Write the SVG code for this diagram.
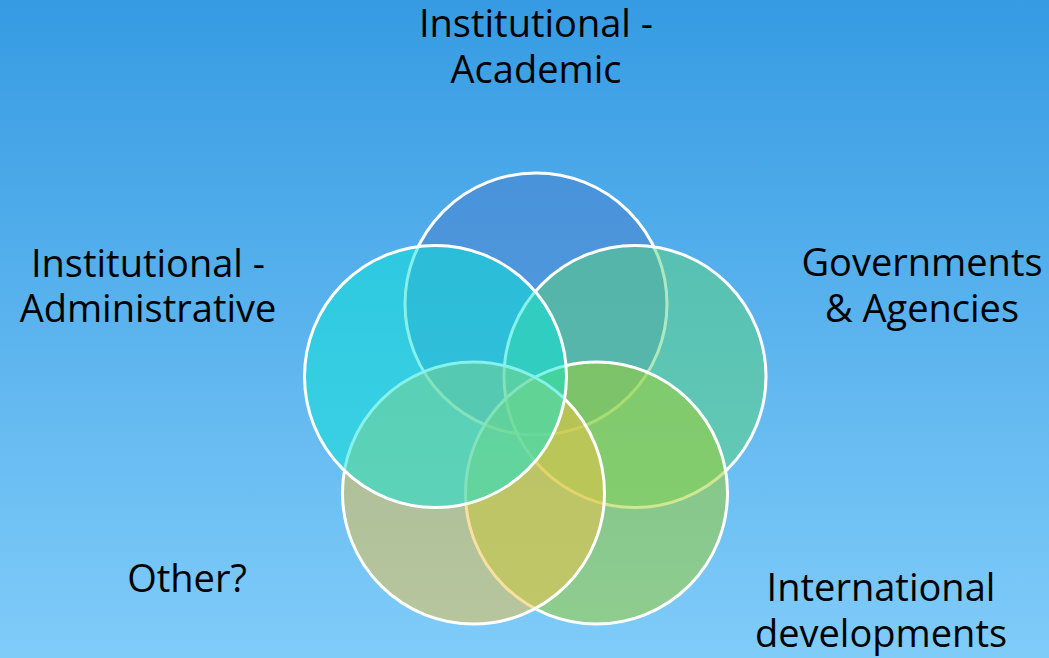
<svg xmlns="http://www.w3.org/2000/svg" width="1049" height="658" viewBox="0 0 1049 658">
  <defs>
    <linearGradient id="bg" x1="0" y1="0" x2="0" y2="1">
      <stop offset="0" stop-color="#369BE3"/>
      <stop offset="1" stop-color="#80CCF9"/>
    </linearGradient>
  </defs>
  <style>
    .c { stroke: #FFFFFF; stroke-width: 3; fill-opacity: 0.5; }
    .t { font-family: "Open Sans", "Noto Sans", sans-serif; font-size: 38px; fill: #000000; text-anchor: middle; }
  </style>
  <rect x="0" y="0" width="1049" height="658" fill="url(#bg)"/>
  <g id="connectors"></g>
  <g id="node-academic">
    <circle class="c" cx="536" cy="304" r="131" fill="#487ECC"/>
  </g>
  <g id="node-governments">
    <circle class="c" cx="635" cy="376.5" r="131" fill="#5BD37A"/>
  </g>
  <g id="node-international">
    <circle class="c" cx="596.5" cy="493" r="131" fill="#A1D026"/>
  </g>
  <g id="node-other">
    <circle class="c" cx="473.5" cy="493" r="131" fill="#F1C142"/>
  </g>
  <g id="node-administrative">
    <circle class="c" cx="435.5" cy="376.5" r="131" fill="#09E3D6"/>
  </g>
  <g id="labels">
    <text class="t" x="536" y="37">Institutional -</text>
    <text class="t" x="536" y="83">Academic</text>
    <text class="t" x="148" y="277">Institutional -</text>
    <text class="t" x="148" y="322">Administrative</text>
    <text class="t" x="922" y="276">Governments</text>
    <text class="t" x="922" y="322">&amp; Agencies</text>
    <text class="t" x="881" y="601">International</text>
    <text class="t" x="881" y="647">developments</text>
    <text class="t" x="187" y="592">Other?</text>
  </g>
</svg>
